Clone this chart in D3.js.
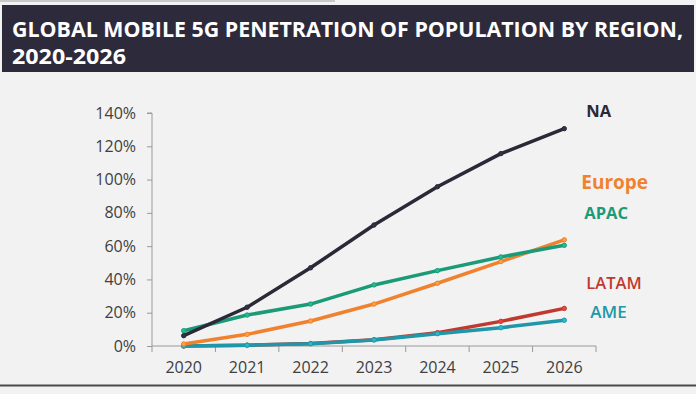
<!DOCTYPE html>
<html>
<head>
<meta charset="utf-8">
<script src="https://cdn.jsdelivr.net/npm/d3@7"></script>
<style>
  html, body { margin: 0; padding: 0; background: #f2f2f2; }
  svg { display: block; }
</style>
</head>
<body>
<svg id="chart" width="696" height="394"></svg>
<script>
const years = ["2020", "2021", "2022", "2023", "2024", "2025", "2026"];
const naValues     = [0.062, 0.233, 0.470, 0.727, 0.957, 1.156, 1.306];
const europeValues = [0.012, 0.070, 0.150, 0.252, 0.377, 0.507, 0.638];
const apacValues   = [0.092, 0.186, 0.252, 0.367, 0.453, 0.535, 0.605];
const latamValues  = [0.000, 0.005, 0.015, 0.038, 0.080, 0.148, 0.226];
const ameValues    = [0.000, 0.005, 0.014, 0.036, 0.074, 0.110, 0.155];
const yTicks = [0, 0.2, 0.4, 0.6, 0.8, 1.0, 1.2, 1.4];
const titleLines = ["GLOBAL MOBILE 5G PENETRATION OF POPULATION BY REGION,", "2020-2026"];

const series = [
  { name: "NA",     values: naValues,     color: "#2b2838", labelV: 1.41, dx: 22, size: 16.5, w: 700 },
  { name: "Europe", values: europeValues, color: "#f0822f", labelV: 0.985, dx: 17, size: 19, w: 700 },
  { name: "APAC",   values: apacValues,   color: "#1b9a78", labelV: 0.80, dx: 20, size: 16.5, w: 700 },
  { name: "LATAM",  values: latamValues,  color: "#c0392f", labelV: 0.38, dx: 22, size: 16.5, w: 600 },
  { name: "AME",    values: ameValues,    color: "#1f97a8", labelV: 0.205, dx: 26, size: 17, w: 600 }
];
const drawOrder = ["LATAM", "AME", "Europe", "APAC", "NA"];

const svg = d3.select("#chart");
const W = 696, H = 394;

svg.append("line").attr("x1", 0).attr("x2", 335).attr("y1", 1).attr("y2", 1)
  .attr("stroke", "#c8c8c8").attr("stroke-width", 2);

svg.append("rect").attr("x", 2).attr("y", 5).attr("width", 692).attr("height", 67)
  .attr("fill", "#2d2a3b");
svg.append("text").attr("x", 12).attr("y", 37)
  .attr("fill", "#ffffff").attr("font-family", "Open Sans, sans-serif")
  .attr("font-weight", 700).attr("font-size", 21)
  .attr("textLength", 671).attr("lengthAdjust", "spacingAndGlyphs")
  .text(titleLines[0]);
svg.append("text").attr("x", 12).attr("y", 64)
  .attr("fill", "#ffffff").attr("font-family", "Open Sans, sans-serif")
  .attr("font-weight", 700).attr("font-size", 21)
  .attr("textLength", 114).attr("lengthAdjust", "spacingAndGlyphs")
  .text(titleLines[1]);

svg.append("line").attr("x1", 0).attr("x2", W).attr("y1", 385.5).attr("y2", 385.5)
  .attr("stroke", "#4a4a4a").attr("stroke-width", 2);

const x = d3.scaleBand().domain(years).range([152, 596]).padding(0);
const y = d3.scaleLinear().domain([0, 1.4]).range([346, 113]);
const cx = d => x(d) + x.bandwidth() / 2;

const axisColor = "#9a9a9a";
const tickFont = "Open Sans, sans-serif";

const yAxis = d3.axisLeft(y).tickValues(yTicks).tickSize(5).tickPadding(4)
  .tickFormat(d3.format(".0%"));
const gy = svg.append("g").attr("transform", "translate(152,0)").call(yAxis);
gy.select(".domain").attr("stroke", axisColor).attr("d", `M-5,${y(1.4)}H0V${y(0)}`);
gy.selectAll(".tick line").attr("stroke", axisColor);
gy.selectAll(".tick text").attr("fill", "#404040").attr("font-size", 16)
  .attr("font-family", tickFont).attr("x", -16);

const gx = svg.append("g").attr("transform", `translate(0,${y(0)})`);
gx.append("line").attr("x1", 152).attr("x2", 596).attr("y1", 0).attr("y2", 0)
  .attr("stroke", axisColor).attr("stroke-width", 1);
const bounds = years.map(d => x(d)).concat([x(years[years.length - 1]) + x.bandwidth()]);
gx.selectAll("line.tk").data(bounds).join("line").attr("class", "tk")
  .attr("x1", d => d).attr("x2", d => d).attr("y1", 0).attr("y2", 6)
  .attr("stroke", axisColor);
gx.selectAll("text").data(years).join("text")
  .attr("x", d => cx(d)).attr("y", 27).attr("text-anchor", "middle")
  .attr("fill", "#404040").attr("font-size", 16).attr("font-family", tickFont)
  .text(d => d);

const line = d3.line().x((d, i) => cx(years[i])).y(d => y(d));
const ordered = drawOrder.map(n => series.find(s => s.name === n));
ordered.forEach(s => {
  const g = svg.append("g");
  g.append("path").datum(s.values).attr("d", line)
    .attr("fill", "none").attr("stroke", s.color).attr("stroke-width", 3.5)
    .attr("stroke-linejoin", "round").attr("stroke-linecap", "round");
  g.selectAll("circle").data(s.values).join("circle")
    .attr("cx", (d, i) => cx(years[i])).attr("cy", d => y(d)).attr("r", 2.2)
    .attr("fill", d3.color(s.color).brighter(0.6)).attr("stroke", s.color).attr("stroke-width", 1);
});

const lastX = cx(years[years.length - 1]);
series.forEach(s => {
  svg.append("text").attr("x", lastX + s.dx).attr("y", y(s.labelV))
    .attr("dy", "0.35em").attr("fill", s.color)
    .attr("font-family", "Open Sans, sans-serif").attr("font-weight", s.w)
    .attr("font-size", s.size).text(s.name);
});
</script>
</body>
</html>
